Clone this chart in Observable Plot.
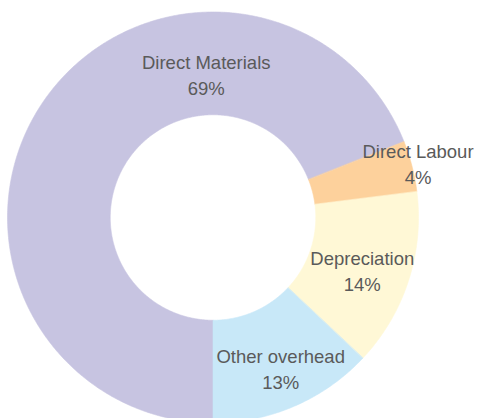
<!DOCTYPE html>
<html><head><meta charset="utf-8">
<script src="https://cdn.jsdelivr.net/npm/d3@7"></script>
<script src="https://cdn.jsdelivr.net/npm/@observablehq/plot@0.6"></script>
<style>body{margin:0;background:#fff}</style>
</head><body><div id="chart"></div>
<script>
const categories = ["Direct Materials", "Direct Labour", "Depreciation", "Other overhead"];
const shares = [69, 4, 14, 13];
const percentLabels = ["69%", "4%", "14%", "13%"];
const colors = ["#c7c4e1", "#fdd19c", "#fff8d6", "#c8e8f8"];

const total = d3.sum(shares);
const INNER = 0.5;
const START = Math.PI; // slices start at 6 o'clock, clockwise
const PX = 205.5;      // pixels per radius unit (used to convert line spacing)
const LINE = 26 / PX;
const LABEL_SHIFT = -2.5 * Math.PI / 180;

let acc = 0;
const slices = categories.map((c, i) => {
  const a0 = START + acc / total * 2 * Math.PI;
  acc += shares[i];
  const a1 = START + acc / total * 2 * Math.PI;
  return {category: c, share: shares[i] / total, a0, a1, pct: percentLabels[i]};
});

const pts = [];
for (const s of slices) {
  const n = Math.max(2, Math.ceil((s.a1 - s.a0) / (Math.PI / 360)));
  for (let k = 0; k <= n; k++) {
    const a = s.a0 + (s.a1 - s.a0) * k / n;
    pts.push({category: s.category, x: Math.sin(a), y: Math.cos(a)});
  }
  for (let k = n; k >= 0; k--) {
    const a = s.a0 + (s.a1 - s.a0) * k / n;
    pts.push({category: s.category, x: INNER * Math.sin(a), y: INNER * Math.cos(a)});
  }
}

const names = [], pcts = [];
for (const s of slices) {
  let a = (s.a0 + s.a1) / 2;
  if (s.share > 0.5) a = 2 * Math.PI; // large slice: label at the top
  if (s.share < 0.05) {
    const r = 1.03;
    const cx = r * Math.sin(a), cy = r * Math.cos(a);
    names.push({x: cx, y: cy + LINE / 2, text: s.category});
    pcts.push({x: cx, y: cy - LINE / 2, text: s.pct});
  } else {
    a += LABEL_SHIFT;
    const r = (1 + INNER) / 2 + 0.004;
    const cx = r * Math.sin(a), cy = r * Math.cos(a);
    names.push({x: cx, y: cy, text: s.category});
    pcts.push({x: cx, y: cy - LINE, text: s.pct});
  }
}

const font = "'Liberation Sans', Arial, Helvetica, sans-serif";
const chart = Plot.plot({
  width: 480,
  height: 418,
  margin: 0,
  x: {domain: [-1, 1], range: [212.5 - PX, 212.5 + PX], axis: null},
  y: {domain: [-1, 1], range: [217 + PX, 217 - PX], axis: null},
  color: {domain: categories, range: colors},
  style: {fontFamily: font, background: "#fff"},
  marks: [
    Plot.line(pts, {x: "x", y: "y", z: "category", fill: "category", stroke: "category", strokeWidth: 0.6, curve: "linear-closed"}),
    Plot.text(names, {x: "x", y: "y", text: "text", fontSize: 18.5, fill: "#5a5a5a", fontFamily: font}),
    Plot.text(pcts, {x: "x", y: "y", text: "text", fontSize: 18.5, fill: "#5a5a5a", fontFamily: font})
  ]
});
document.getElementById("chart").appendChild(chart);
</script>
</body></html>
